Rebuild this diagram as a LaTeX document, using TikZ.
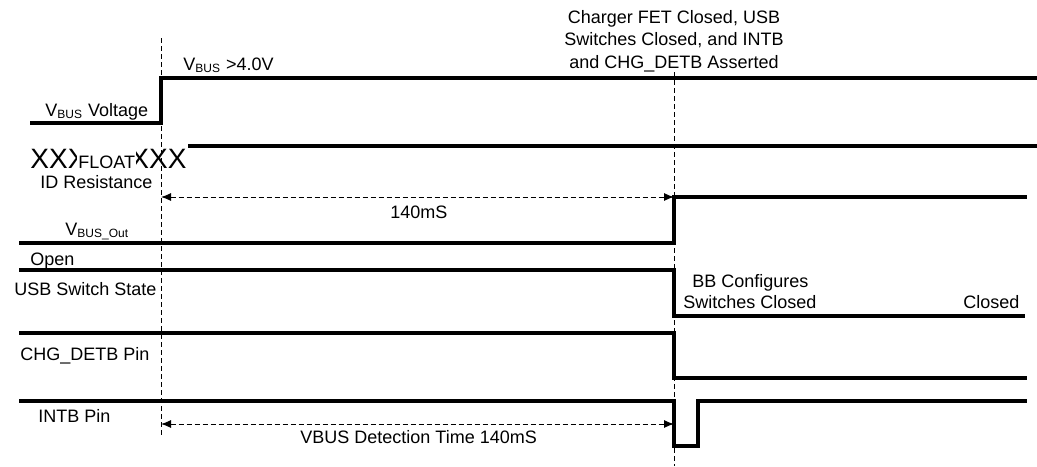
\documentclass[tikz,border=0pt]{standalone}
\usepackage{fontspec}
\setmainfont{Liberation Sans}
\usetikzlibrary{arrows.meta}

\begin{document}
\begin{tikzpicture}[
    x=0.5pt,
    y=-0.5pt,
    font=\fontsize{9}{11}\selectfont,
    signal/.style={line width=2pt, line join=miter},
    marker/.style={line width=0.5pt, dash pattern=on 2.5pt off 1.5pt},
    span/.style={marker, {Latex[length=5pt,width=4pt]}-{Latex[length=5pt,width=4pt]}},
    lbl/.style={anchor=base west, inner sep=0pt}
]

% Frame
\fill[white] (0,0) rectangle (1037,466);
\useasboundingbox (0,0) rectangle (1037,466);

% Time markers
\coordinate (attachtop) at (161,38);
\coordinate (attachbot) at (161,435);
\coordinate (donetop) at (674,72);
\coordinate (donebot) at (674,466);
\draw[marker] (attachtop) -- (attachbot);
\draw[marker] (donetop) -- (donebot);

% Event note
\foreach \y/\txt in {23/{Charger FET Closed, USB},45/{Switches Closed, and INTB},68/{and CHG\_DETB Asserted}} {
    \node[anchor=base, inner sep=0pt] at (674,\y) {\txt};
}

% Signals
\draw[signal] (30,123) -- (161,123) -- (161,78) -- (1037,78);
\draw[signal] (188,146) -- (1037,146);
\draw[signal] (19,243) -- (674,243) -- (674,197) -- (1027,197);
\draw[signal] (19,270) -- (674,270) -- (674,316) -- (1025,316);
\draw[signal] (19,333) -- (674,333) -- (674,378) -- (1027,378);
\draw[signal] (19,401) -- (674,401) -- (674,446) -- (698,446) -- (698,401) -- (1027,401);

% ID bus state
\node[lbl, font=\fontsize{14}{14}\selectfont] (xleft) at (30,168) {XXX};
\node[lbl, font=\fontsize{14}{14}\selectfont] (xright) at (130,168) {XXX};
\node[lbl, fill=white, inner xsep=0.5pt, text height=10.5pt, text depth=0pt] (float) at (77,168) {FLOAT};

% Signal names
\node[lbl] (vbusname) at (45,116) {V\textsubscript{BUS} Voltage};
\node[lbl] (vbuslevel) at (183,70) {V\textsubscript{BUS} >4.0V};
\node[lbl] (idname) at (40,188) {ID Resistance};
\node[lbl] (outname) at (65,235) {V\textsubscript{BUS\_Out}};
\node[lbl] (openname) at (30,265) {Open};
\node[lbl] (usbname) at (14,295) {USB Switch State};
\node[lbl] (bbline) at (692,287) {BB Configures};
\node[lbl] (swline) at (683,308) {Switches Closed};
\node[lbl] (closedname) at (963,308) {Closed};
\node[lbl] (chgname) at (20,360) {CHG\_DETB Pin};
\node[lbl] (intbname) at (38,422) {INTB Pin};

% Timing spans
\coordinate (spanaL) at (161,197);
\coordinate (spanaR) at (674,197);
\coordinate (spanbL) at (161,424);
\coordinate (spanbR) at (674,424);
\draw[span] (spanaL) -- (spanaR);
\draw[span] (spanbL) -- (spanbR);
\node[lbl] (spanatext) at (390,218) {140mS};
\node[lbl] (spanbtext) at (300,443) {VBUS Detection Time 140mS};

\end{tikzpicture}
\end{document}
